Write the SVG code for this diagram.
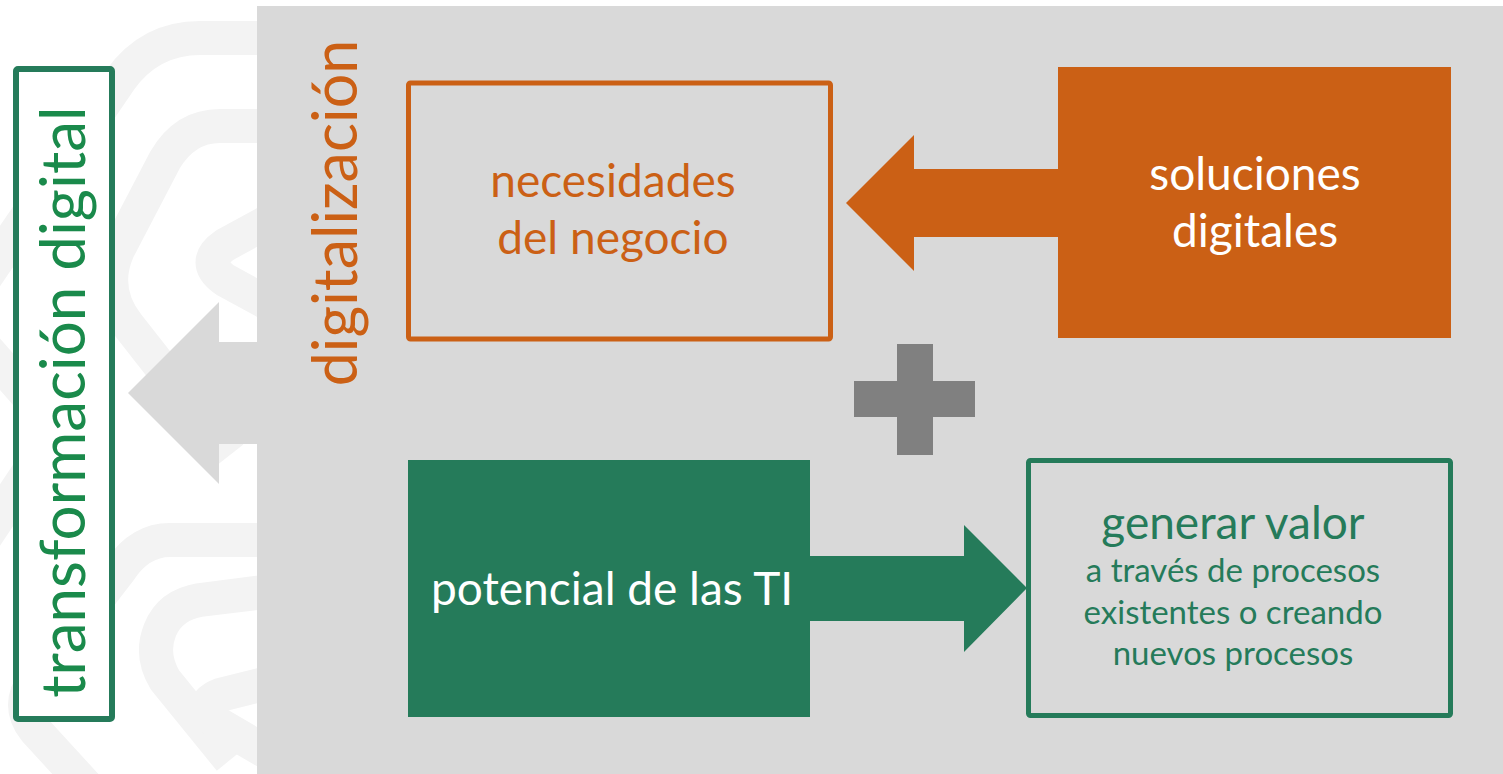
<svg xmlns="http://www.w3.org/2000/svg" width="1503" height="774" viewBox="0 0 1503 774">
<style>
  text { font-family: Lato, "Open Sans", "Liberation Sans", sans-serif; }
  .pat { fill: none; stroke: #f3f3f3; stroke-width: 34; stroke-linejoin: round; stroke-linecap: butt; }
  .or { fill: #CB6015; }
  .gr { fill: #257B5A; }
  .big { font-size: 46px; text-anchor: middle; }
  .small { font-size: 33px; text-anchor: middle; }
</style>
<rect x="0" y="0" width="1503" height="774" fill="#ffffff"/>
<g id="background-pattern">
  <path class="pat" d="M280 38 L200 38 Q150 38 120 80 L-30 300"/>
  <path class="pat" d="M280 126 L220 126 Q185 126 165 160 L118 250 Q100 290 128 325 L230 455"/>
  <path class="pat" d="M280 215 L225 245 Q200 262 225 280 L280 310"/>
  <path class="pat" d="M-30 330 L40 410 Q60 430 40 455 L-30 560"/>
  <path class="pat" d="M280 540 L170 540 Q140 540 120 570 L35 680 Q15 705 35 730 L90 790"/>
  <path class="pat" d="M280 590 L200 600 Q170 605 160 630 Q150 655 165 680 L230 760"/>
  <path class="pat" d="M280 680 L220 695 Q195 705 220 725 L280 760"/>
</g>
<rect id="panel" x="257" y="6" width="1246" height="768" fill="#D9D9D9"/>
<g id="connectors">
  <path id="arrow-gray" d="M257 342 L219 342 L219 302 L128 393 L219 484 L219 444 L257 444 Z" fill="#D9D9D9"/>
  <path id="arrow-orange" class="or" d="M1058 169 L914 169 L914 135 L846 203 L914 271 L914 237 L1058 237 Z"/>
  <path id="arrow-green" class="gr" d="M810 556 L964 556 L964 525 L1027 588 L964 652 L964 621 L810 621 Z"/>
</g>
<g id="transformacion-digital">
  <rect x="16" y="69" width="96" height="650" fill="#ffffff" stroke="#257B5A" stroke-width="6" rx="2"/>
  <text transform="translate(85,402) rotate(-90)" font-size="62" text-anchor="middle" fill="#1A8A4B">transformación digital</text>
</g>
<g id="digitalizacion">
  <text transform="translate(357,213) rotate(-90)" font-size="61" text-anchor="middle" fill="#CB6015">digitalización</text>
</g>
<g id="necesidades">
  <rect x="408.5" y="83" width="422" height="256" fill="none" stroke="#CB6015" stroke-width="5" rx="2"/>
  <text class="big" x="613" y="197" fill="#CB6015">necesidades</text>
  <text class="big" x="613" y="254" fill="#CB6015">del negocio</text>
</g>
<g id="soluciones">
  <rect class="or" x="1058" y="67" width="393" height="271"/>
  <text class="big" x="1255" y="190" fill="#ffffff">soluciones</text>
  <text class="big" x="1255" y="247" fill="#ffffff">digitales</text>
</g>
<g id="plus" fill="#808080">
  <rect x="854" y="381" width="121" height="36"/>
  <rect x="897" y="344" width="36" height="111"/>
</g>
<g id="potencial">
  <rect class="gr" x="408" y="460" width="402" height="257"/>
  <text x="431" y="605" font-size="46" fill="#ffffff">potencial de las TI</text>
</g>
<g id="generar-valor">
  <rect x="1028.5" y="460.5" width="422" height="255" fill="none" stroke="#257B5A" stroke-width="5" rx="2"/>
  <text class="big" x="1233" y="539" fill="#257B5A">generar valor</text>
  <text class="small" x="1233" y="582" fill="#257B5A">a través de procesos</text>
  <text class="small" x="1233" y="624" fill="#257B5A">existentes o creando</text>
  <text class="small" x="1233" y="665" fill="#257B5A">nuevos procesos</text>
</g>
</svg>
